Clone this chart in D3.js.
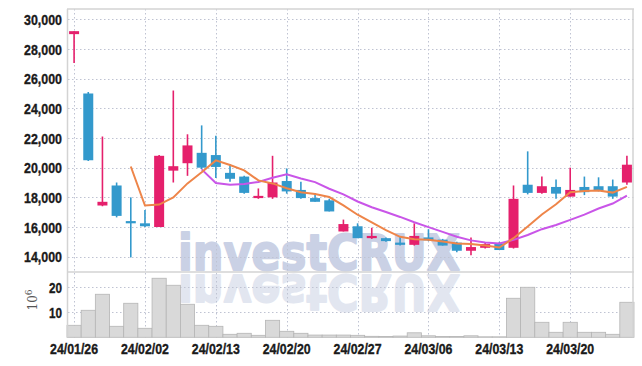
<!DOCTYPE html>
<html>
<head>
<meta charset="utf-8">
<script src="https://cdn.jsdelivr.net/npm/d3@7/dist/d3.min.js"></script>
<style>
  body { margin: 0; background: #fff; }
  .tick-label { font-family: "Liberation Sans", Arial, sans-serif; font-weight: bold; font-size: 15px; fill: #1a1a1a; stroke: #1a1a1a; stroke-width: 0.35px; }
</style>
</head>
<body>
<div id="chart"></div>
<script>
// trading days (yy/mm/dd)
const dates = [
  "24/01/26","24/01/29","24/01/30","24/01/31","24/02/01","24/02/02","24/02/05","24/02/06","24/02/07","24/02/08",
  "24/02/13","24/02/14","24/02/15","24/02/16","24/02/19","24/02/20","24/02/21","24/02/22","24/02/23","24/02/26",
  "24/02/27","24/02/28","24/02/29","24/03/04","24/03/05","24/03/06","24/03/07","24/03/08","24/03/11","24/03/12",
  "24/03/13","24/03/14","24/03/15","24/03/18","24/03/19","24/03/20","24/03/21","24/03/22","24/03/25","24/03/26"
];
const opens  = [29000,25000,17450,18800,16400,16250,16000,19800,20300,21000,
                20850,19650,19400,17950,18000,19100,18500,17950,17800,15700,
                16050,15250,15250,14950,14800,15300,15150,14950,14400,14600,
                14900,14600,18850,18300,18700,18050,18700,18750,18750,19000];
const highs  = [29200,25100,22100,19000,18000,17150,20850,25200,22250,22850,
                22150,20250,19450,18600,20800,19950,19050,18300,17900,16500,
                16250,15950,15300,15350,16250,15850,15200,15000,15300,14950,
                15000,18800,21100,19400,19200,20000,19400,19350,19200,20800];
const lows   = [27050,20450,17400,16650,13950,16000,16000,19000,19450,19900,
                19300,19050,18250,17900,17900,18250,17900,17700,17050,15700,
                15250,15200,15000,14750,14750,15050,14750,14300,14100,14550,
                14450,14550,18200,18250,17900,18050,18150,18400,17900,18850];
const closes = [29200,20500,17700,16750,16250,16050,20800,20100,21500,20000,
                20050,19250,18300,18100,19000,18400,17950,17700,17050,16200,
                15250,15400,15050,14800,15400,15100,14750,14400,14650,14850,
                14450,17900,18300,18750,18250,18500,18350,18450,18050,20200];
// volume, millions of shares
const volumes = [4.8,10.8,17.2,4.4,13.6,3.6,23.6,20.8,13.2,4.8,
                 4.4,1.2,1.6,0.8,6.8,2.4,1.6,0.9,0.9,0.9,
                 0.8,0.4,0.3,0.5,1.8,0.6,0.3,0.3,0.6,0.2,
                 0.2,15.6,20,6,2,6,2,2,1.2,14];
const priceTicks = [14000,16000,18000,20000,22000,24000,26000,28000,30000];
const volTicks = [10, 20];
const dateTicks = ["24/01/26","24/02/02","24/02/13","24/02/20","24/02/27","24/03/06","24/03/13","24/03/20"];

const W = 642, H = 366;
const pLeft = 67, pRight = 634, pTop = 9, pMid = 272, pBottom = 337.3;
const upColor = "#e5206c", downColor = "#3399cc";

const svg = d3.select("#chart").append("svg")
    .attr("width", W).attr("height", H);

const x = d3.scaleBand().domain(dates).range([pLeft, pRight]).padding(0);
const cx = d => x(d) + x.bandwidth() / 2;
const y = d3.scaleLinear().domain([12969, 30694]).range([pMid, pTop]);
const yv = d3.scaleLinear().domain([0, 26.1]).range([pBottom, pMid]);

// watermark + its reflection
const wm = svg.append("g")
    .style("font-family", "'DejaVu Sans', sans-serif")
    .style("font-weight", "bold").style("font-size", "50px")
    .attr("stroke-width", 1.8).attr("stroke-linejoin", "round");
wm.append("text")
    .attr("x", 178).attr("y", 270)
    .attr("fill", "#cad1e5").attr("stroke", "#cad1e5")
    .attr("textLength", 282).attr("lengthAdjust", "spacingAndGlyphs")
    .text("investCRUX");
wm.append("text")
    .attr("transform", "translate(0," + (2 * pMid + 1) + ") scale(1,-1)")
    .attr("x", 178).attr("y", 270)
    .attr("fill", "#e2e6f0").attr("stroke", "#e2e6f0")
    .attr("textLength", 282).attr("lengthAdjust", "spacingAndGlyphs")
    .text("investCRUX");

// grid
const grid = svg.append("g")
    .attr("stroke", "#bfc3d2").attr("stroke-width", 1).attr("stroke-dasharray", "1.5,2.5");
grid.selectAll(".hp").data(priceTicks).enter().append("line")
    .attr("x1", pLeft + 1).attr("x2", pRight)
    .attr("y1", d => Math.round(y(d)) + 0.5).attr("y2", d => Math.round(y(d)) + 0.5);
grid.selectAll(".hv").data(volTicks).enter().append("line")
    .attr("x1", pLeft + 1).attr("x2", pRight)
    .attr("y1", d => Math.round(yv(d)) + 0.5).attr("y2", d => Math.round(yv(d)) + 0.5);
grid.selectAll(".vx").data(dateTicks).enter().append("line")
    .attr("x1", d => Math.round(cx(d)) + 0.5).attr("x2", d => Math.round(cx(d)) + 0.5)
    .attr("y1", pTop).attr("y2", pBottom);

// volume bars
svg.append("g").selectAll("rect").data(volumes).enter().append("rect")
    .attr("x", (d, i) => x(dates[i]))
    .attr("width", x.bandwidth())
    .attr("y", d => yv(d))
    .attr("height", d => pBottom - yv(d))
    .attr("fill", "#d9d9d9")
    .attr("stroke", "#b5b5b5").attr("stroke-width", 0.8);

// frame
const frame = svg.append("g").attr("stroke", "#d3d3d3").attr("stroke-width", 1.5);
frame.append("line").attr("x1", pLeft).attr("x2", pRight).attr("y1", pTop).attr("y2", pTop);
frame.append("line").attr("x1", pLeft + 0.5).attr("x2", pLeft + 0.5).attr("y1", pTop).attr("y2", pBottom);
frame.append("line").attr("x1", pRight - 1).attr("x2", pRight - 1).attr("y1", pTop).attr("y2", pBottom);
frame.append("line").attr("x1", pLeft).attr("x2", pRight).attr("y1", pMid).attr("y2", pMid);

// candles
const candles = svg.append("g").selectAll("g").data(dates).enter().append("g");
candles.append("line")
    .attr("x1", d => cx(d)).attr("x2", d => cx(d))
    .attr("y1", (d, i) => y(highs[i])).attr("y2", (d, i) => y(lows[i]))
    .attr("stroke", (d, i) => closes[i] >= opens[i] ? upColor : downColor)
    .attr("stroke-width", 1.6);
candles.append("rect")
    .attr("x", d => cx(d) - 5).attr("width", 10)
    .attr("y", (d, i) => y(Math.max(opens[i], closes[i])))
    .attr("height", (d, i) => Math.max(2, Math.abs(y(opens[i]) - y(closes[i]))))
    .attr("fill", (d, i) => closes[i] >= opens[i] ? upColor : downColor);

// moving averages of the closes
function movingAvg(n) {
    return closes.map((c, i) => i < n - 1 ? null : d3.mean(closes.slice(i - n + 1, i + 1)));
}
const line = d3.line()
    .defined(d => d[1] !== null)
    .x(d => cx(d[0])).y(d => y(d[1]));
svg.append("path")
    .datum(dates.map((d, i) => [d, movingAvg(10)[i]]))
    .attr("d", line).attr("fill", "none")
    .attr("stroke", "#c955e8").attr("stroke-width", 2);
svg.append("path")
    .datum(dates.map((d, i) => [d, movingAvg(5)[i]]))
    .attr("d", line).attr("fill", "none")
    .attr("stroke", "#ee8549").attr("stroke-width", 2);

// axes labels (narrow look: squeeze glyphs to the reference widths)
const yAxis = d3.axisLeft(y).tickValues(priceTicks).tickSize(0).tickPadding(5)
    .tickFormat(d3.format(","));
svg.append("g").attr("transform", "translate(" + pLeft + ",0)").call(yAxis)
    .call(g => g.select(".domain").remove())
    .selectAll("text").attr("class", "tick-label").attr("dy", "0.35em")
    .attr("textLength", 38).attr("lengthAdjust", "spacingAndGlyphs");

const vAxis = d3.axisLeft(yv).tickValues(volTicks).tickSize(0).tickPadding(5);
svg.append("g").attr("transform", "translate(" + pLeft + ",0)").call(vAxis)
    .call(g => g.select(".domain").remove())
    .selectAll("text").attr("class", "tick-label").attr("dy", "0.35em")
    .attr("textLength", 13).attr("lengthAdjust", "spacingAndGlyphs");

const xAxis = d3.axisBottom(x).tickValues(dateTicks).tickSize(0).tickPadding(6);
svg.append("g").attr("transform", "translate(0," + pBottom + ")").call(xAxis)
    .call(g => g.select(".domain").remove())
    .selectAll("text").attr("class", "tick-label").attr("dy", "0.71em")
    .attr("textLength", 48).attr("lengthAdjust", "spacingAndGlyphs");

// unit label
const unit = svg.append("text")
    .attr("transform", "translate(37,300) rotate(-90)")
    .attr("text-anchor", "middle")
    .style("font-family", "'DejaVu Serif', serif").style("font-size", "12px")
    .attr("fill", "#555");
unit.append("tspan").text("10");
unit.append("tspan").attr("dy", "-5").style("font-size", "9px").text("6");
</script>
</body>
</html>
